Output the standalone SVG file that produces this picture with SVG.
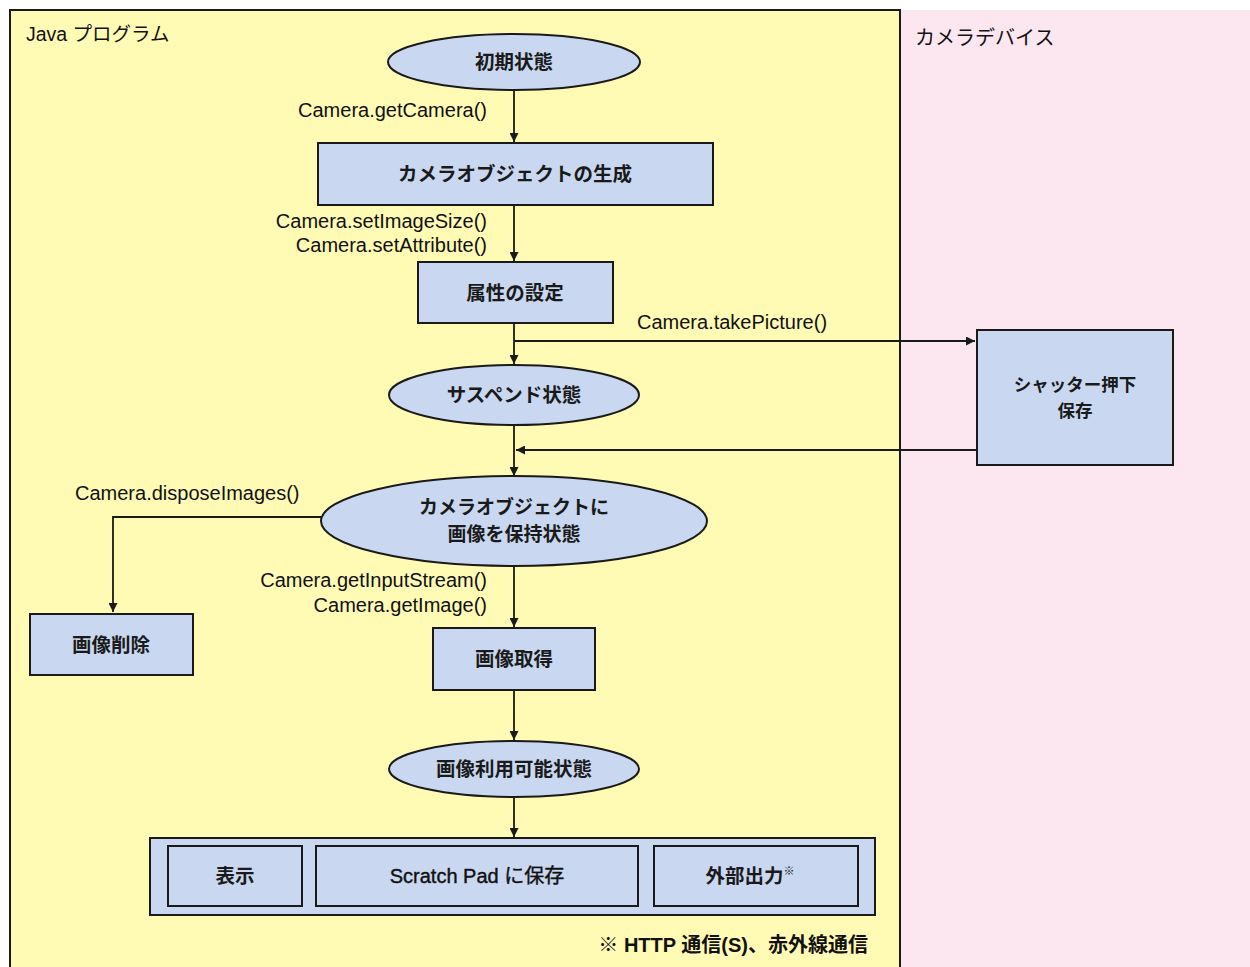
<svg xmlns="http://www.w3.org/2000/svg" width="1250" height="967" viewBox="0 0 1250 967">
<style>
.lbl{font-family:"Liberation Sans","Noto Sans CJK JP",sans-serif;font-size:20px;fill:#111}
.nt{font-family:"Noto Sans CJK JP","Liberation Sans",sans-serif;font-size:19.5px;font-weight:bold;fill:#1a1a1a;text-anchor:middle}
.node{fill:#c9d8f0;stroke:#1a1a1a;stroke-width:2}
.conn{stroke:#1a1a1a;stroke-width:1.8;fill:none}
</style>
<defs>
<marker id="ah" viewBox="0 0 10 10" refX="10" refY="5" markerWidth="9" markerHeight="9" markerUnits="userSpaceOnUse" orient="auto">
<path d="M0,0 L10,5 L0,10 z" fill="#1a1a1a"/>
</marker>
</defs>
<rect x="0" y="0" width="1250" height="967" fill="#ffffff"/>
<rect id="pink-panel" x="900" y="10" width="350" height="957" fill="#fce6f0"/>
<rect id="yellow-panel" x="10" y="10" width="890" height="970" fill="#fffbb5" stroke="#1a1a1a" stroke-width="2"/>
<text class="lbl" x="26" y="41" style="font-size:19.5px">Java プログラム</text>
<text class="lbl" x="915" y="45">カメラデバイス</text>

<g id="connectors">
<line class="conn" x1="514" y1="90" x2="514" y2="142" marker-end="url(#ah)"/>
<line class="conn" x1="514" y1="205" x2="514" y2="261" marker-end="url(#ah)"/>
<line class="conn" x1="514" y1="323" x2="514" y2="364" marker-end="url(#ah)"/>
<line class="conn" x1="514" y1="341" x2="975" y2="341" marker-end="url(#ah)"/>
<line class="conn" x1="514" y1="425" x2="514" y2="476" marker-end="url(#ah)"/>
<line class="conn" x1="977" y1="450" x2="516" y2="450" marker-end="url(#ah)"/>
<polyline class="conn" points="321,517 113,517 113,612" marker-end="url(#ah)"/>
<line class="conn" x1="514" y1="566" x2="514" y2="627" marker-end="url(#ah)"/>
<line class="conn" x1="514" y1="690" x2="514" y2="740" marker-end="url(#ah)"/>
<line class="conn" x1="514" y1="797" x2="514" y2="837" marker-end="url(#ah)"/>
</g>

<text class="lbl" x="487" y="117" text-anchor="end">Camera.getCamera()</text>
<text class="lbl" x="487" y="228" text-anchor="end">Camera.setImageSize()</text>
<text class="lbl" x="487" y="252" text-anchor="end">Camera.setAttribute()</text>
<text class="lbl" x="637" y="329">Camera.takePicture()</text>
<text class="lbl" x="75" y="500">Camera.disposeImages()</text>
<text class="lbl" x="487" y="587" text-anchor="end">Camera.getInputStream()</text>
<text class="lbl" x="487" y="612" text-anchor="end">Camera.getImage()</text>

<g id="n-initial">
<ellipse class="node" cx="514" cy="62" rx="126" ry="28"/>
<text class="nt" x="514" y="69">初期状態</text>
</g>
<g id="n-create">
<rect class="node" x="318" y="143" width="395" height="62"/>
<text class="nt" x="515" y="181">カメラオブジェクトの生成</text>
</g>
<g id="n-attr">
<rect class="node" x="418" y="262" width="195" height="61"/>
<text class="nt" x="515" y="300">属性の設定</text>
</g>
<g id="n-suspend">
<ellipse class="node" cx="514" cy="395" rx="125" ry="30"/>
<text class="nt" x="514" y="402">サスペンド状態</text>
</g>
<g id="n-shutter">
<rect class="node" x="977" y="330" width="196" height="135"/>
<text class="nt" x="1075" y="391" style="font-size:17.5px">シャッター押下</text>
<text class="nt" x="1075" y="417" style="font-size:17.5px">保存</text>
</g>
<g id="n-hold">
<ellipse class="node" cx="514" cy="521" rx="193" ry="45"/>
<text class="nt" x="514" y="514" style="font-size:19px">カメラオブジェクトに</text>
<text class="nt" x="514" y="541" style="font-size:19px">画像を保持状態</text>
</g>
<g id="n-delete">
<rect class="node" x="30" y="614" width="163" height="61"/>
<text class="nt" x="111" y="652">画像削除</text>
</g>
<g id="n-get">
<rect class="node" x="433" y="628" width="162" height="62"/>
<text class="nt" x="514" y="666">画像取得</text>
</g>
<g id="n-avail">
<ellipse class="node" cx="514" cy="769" rx="125" ry="28"/>
<text class="nt" x="514" y="776">画像利用可能状態</text>
</g>
<g id="n-outputs">
<rect class="node" x="150" y="838" width="725" height="77"/>
<rect class="node" x="168" y="846" width="134" height="60"/>
<text class="nt" x="235" y="883">表示</text>
<rect class="node" x="316" y="846" width="322" height="60"/>
<text x="477" y="883" text-anchor="middle" font-family="Liberation Sans, Noto Sans CJK JP, sans-serif" font-size="20" fill="#111" stroke="#111" stroke-width="0.4">Scratch Pad に保存</text>
<rect class="node" x="654" y="846" width="204" height="60"/>
<text class="nt" x="750" y="883">外部出力<tspan font-size="11" dy="-8">※</tspan></text>
</g>
<text x="868" y="952" text-anchor="end" font-family="Liberation Sans, Noto Sans CJK JP, sans-serif" font-size="20" font-weight="bold" fill="#111">※ HTTP 通信(S)、赤外線通信</text>
</svg>
